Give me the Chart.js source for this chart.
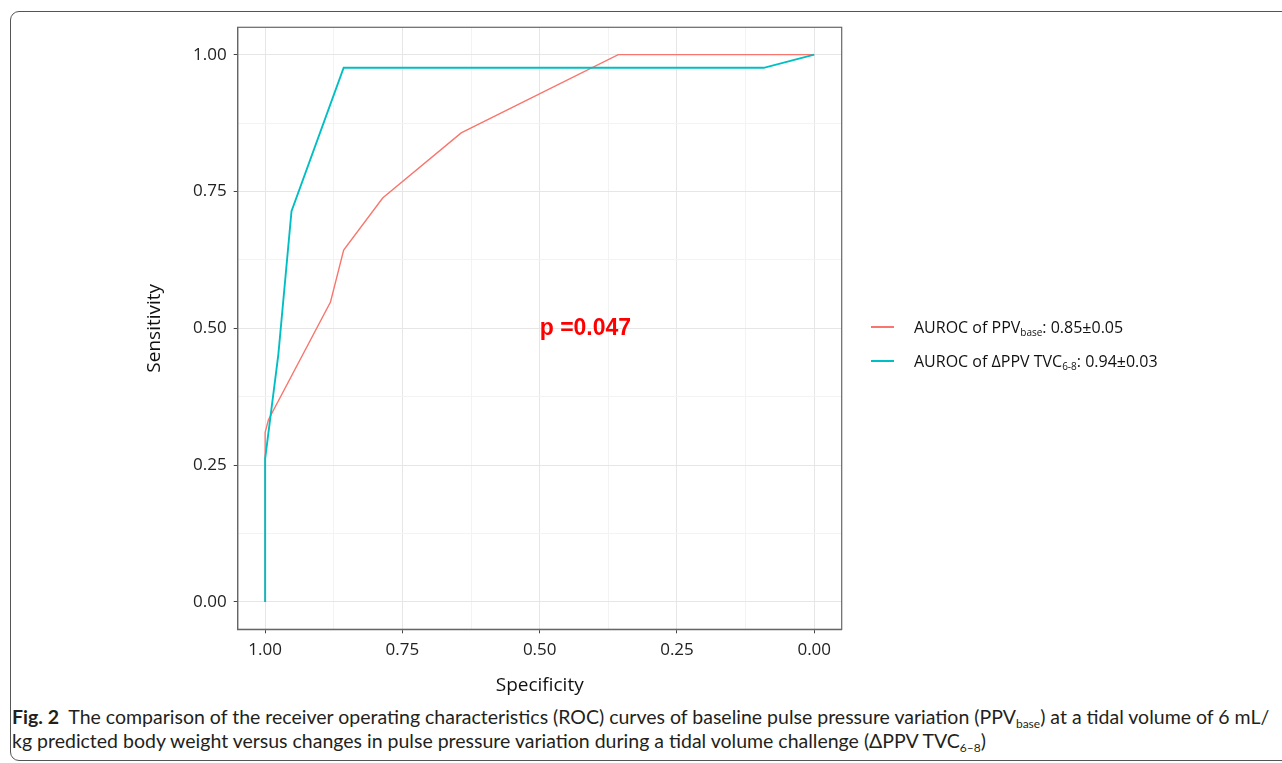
<!DOCTYPE html>
<html>
<head>
<meta charset="utf-8">
<script src="https://cdn.jsdelivr.net/npm/chart.js@4"></script>
<style>
  html, body { margin: 0; padding: 0; background: #fff; }
  body { width: 1282px; height: 763px; position: relative; overflow: hidden; font-family: 'Open Sans', sans-serif; }
  #frame { position: absolute; left: 10px; top: 11px; width: 1300px; height: 748px; border: 1.3px solid #555; border-radius: 9px; }
  #chartBox { position: absolute; left: 0; top: 0; width: 1282px; height: 700px; }
  #legend { position: absolute; left: 871px; top: 0; font-size: 16px; color: #111; }
  .item { position: absolute; left: 0; white-space: nowrap; display: flex; align-items: center; height: 22px; }
  .item span.key { display: inline-block; width: 23px; height: 1.6px; margin-right: 20px; }
  .item sub { font-size: 10px; vertical-align: -3px; line-height: 0; }
  #caption { position: absolute; left: 12px; top: 705px; font-family: Lato, sans-serif; font-size: 19.5px; color: #231f20; line-height: 24px; }
  #caption div { white-space: nowrap; }
  #caption sub { font-size: 12px; vertical-align: -4px; line-height: 0; }
</style>
</head>
<body>
<div id="frame"></div>
<div id="chartBox"><canvas id="rocChart"></canvas></div>
<div id="legend"></div>
<div id="caption">
  <div><b>Fig. 2</b>&nbsp; The comparison of the receiver operating characteristics (ROC) curves of baseline pulse pressure variation (PPV<sub>base</sub>) at a tidal volume of 6 mL/</div>
  <div>kg predicted body weight versus changes in pulse pressure variation during a tidal volume challenge (ΔPPV TVC<sub>6–8</sub>)</div>
</div>
<script>
// ROC curve of baseline PPV
const specPPV = [1, 1, 0.994, 0.881, 0.857, 0.786, 0.643, 0.357, 0];
const sensPPV = [0, 0.310, 0.333, 0.548, 0.643, 0.738, 0.857, 1, 1];

// ROC curve of delta PPV during tidal volume challenge
const specDPPV = [1, 1, 0.976, 0.952, 0.857, 0.092, 0];
const sensDPPV = [0, 0.262, 0.452, 0.714, 0.976, 0.976, 1];

// Legend labels (html for the subscripts)
const legendLabels = [
    'AUROC of PPV<sub>base</sub>: 0.85±0.05',
    'AUROC of ΔPPV TVC<sub>6-8</sub>: 0.94±0.03'
];
const seriesColors = ['#F8766D', '#00BFC4'];

// Axis ticks
const majorTicks = [0, 0.25, 0.5, 0.75, 1];
const minorTicks = [0.125, 0.375, 0.625, 0.875];

const pText = 'p =0.047';
const pAt = { x: 0.5, y: 0.5 };

function toPoints(xs, ys) {
    return xs.map((x, i) => ({ x: x, y: ys[i] }));
}

function isMajor(v) {
    return majorTicks.some(m => Math.abs(m - v) < 1e-6);
}

function setTicks(scale) {
    scale.ticks = majorTicks.concat(minorTicks).sort((a, b) => a - b).map(v => ({ value: v }));
}

// Grid/ticks look like ggplot theme_bw
function axisOptions(titleText, titlePadding) {
    return {
        type: 'linear',
        min: -0.05,
        max: 1.05,
        afterBuildTicks: setTicks,
        ticks: {
            autoSkip: false,
            maxRotation: 0,
            padding: 7,
            color: '#222',
            font: { family: 'Open Sans', size: 17 },
            callback: v => isMajor(v) ? v.toFixed(2) : ''
        },
        grid: {
            color: ctx => (ctx.tick && isMajor(ctx.tick.value)) ? '#e6e6e6' : '#f3f3f3',
            lineWidth: 1,
            drawTicks: true,
            tickLength: 4,
            tickColor: ctx => (ctx.tick && isMajor(ctx.tick.value)) ? '#444' : 'rgba(0,0,0,0)'
        },
        border: { display: true, color: '#666', width: 1.2 },
        title: {
            display: true,
            text: titleText,
            color: '#111',
            font: { family: 'Open Sans', size: 19 },
            padding: titlePadding
        }
    };
}

// Top and right panel border + p-value text
const panelPlugin = {
    id: 'panelExtras',
    afterDatasetsDraw(chart) {
        const { ctx, chartArea, scales } = chart;
        ctx.save();
        ctx.strokeStyle = '#666';
        ctx.lineWidth = 1.2;
        ctx.strokeRect(chartArea.left, chartArea.top, chartArea.right - chartArea.left, chartArea.bottom - chartArea.top);
        ctx.fillStyle = '#ff0000';
        ctx.font = 'bold 23px "Liberation Sans"';
        ctx.textAlign = 'left';
        ctx.textBaseline = 'middle';
        ctx.fillText(pText, scales.x.getPixelForValue(pAt.x), scales.y.getPixelForValue(pAt.y));
        ctx.restore();
    }
};

const xOpts = axisOptions('Specificity', { top: 0, bottom: 2.6 });
xOpts.reverse = true;
xOpts.afterFit = s => { s.height = 70.7; };
const yOpts = axisOptions('Sensitivity', { top: 8.6, bottom: 0 });
yOpts.afterFit = s => { s.width = 102.7; };

const rocChart = new Chart(document.getElementById('rocChart').getContext('2d'), {
    type: 'scatter',
    data: {
        datasets: [
            {
                label: 'dPPV',
                data: toPoints(specDPPV, sensDPPV),
                borderColor: seriesColors[1],
                borderWidth: 1.9,
                showLine: true,
                pointRadius: 0,
                tension: 0
            },
            {
                label: 'PPV',
                data: toPoints(specPPV, sensPPV),
                borderColor: seriesColors[0],
                borderWidth: 1.4,
                showLine: true,
                pointRadius: 0,
                tension: 0
            }
        ]
    },
    options: {
        responsive: true,
        maintainAspectRatio: false,
        animation: false,
        layout: { padding: { left: 135, right: 440.3, top: 27.3, bottom: 0 } },
        plugins: {
            legend: { display: false },
            tooltip: { enabled: false }
        },
        scales: { x: xOpts, y: yOpts }
    },
    plugins: [panelPlugin]
});

// HTML legend, so the subscripts stay real text
const legendDiv = document.getElementById('legend');
const rowCenters = [327, 361];
legendLabels.forEach((lab, i) => {
    const row = document.createElement('div');
    row.className = 'item';
    row.style.top = (rowCenters[i] - 11) + 'px';
    row.innerHTML = '<span class="key" style="background:' + seriesColors[i] + '"></span><span>' + lab + '</span>';
    legendDiv.appendChild(row);
});
</script>
</body>
</html>
